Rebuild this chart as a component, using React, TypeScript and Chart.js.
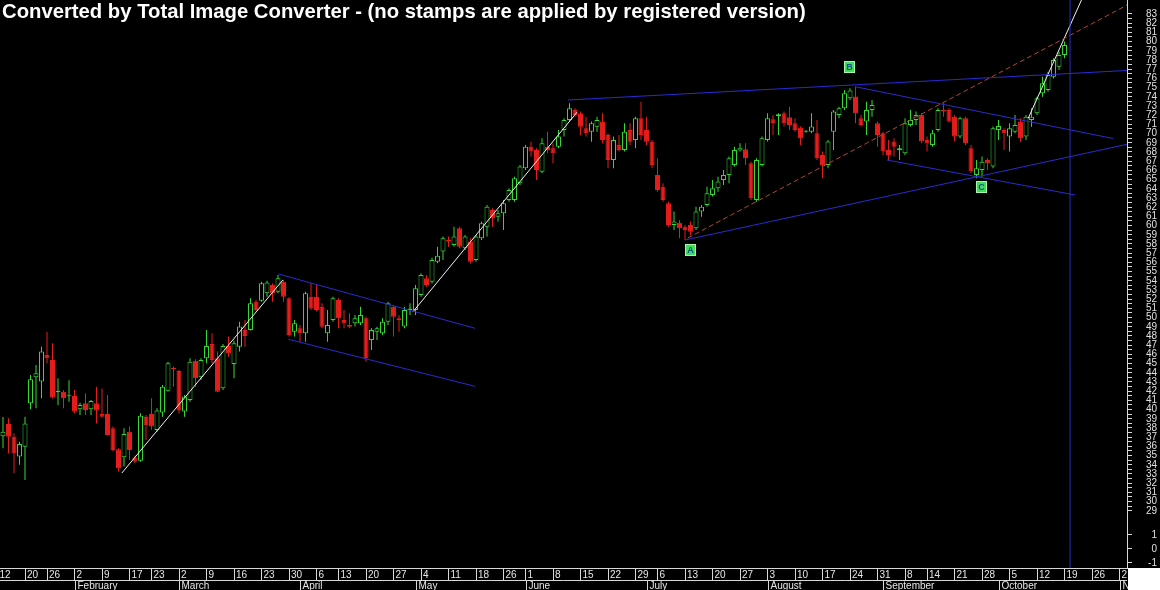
import React, { useEffect, useRef } from "react";
import { Chart, registerables } from "chart.js";

Chart.register(...registerables);

// ---- data -------------------------------------------------------------
// trading-day index: 0 = Mon 12 Jan 2009 (holidays skipped)
const FIRST_DAY = 1;

const opens = [
  37.1, 38.44, 37.06, 34.9, 35.97, 40.68, 43.51, 43.04, 45.93, 45.39,
  41.9, 41.95, 41.45, 41.48, 40.03, 40.68, 40.03, 40.68, 39.52, 39.52,
  37.96, 35.68, 34.81, 37.6, 34.78, 34.45, 39.2, 39.52, 37.78, 39.67,
  42.06, 44.56, 44.2, 39.78, 41.05, 45.32, 43.51, 45.57, 47.13, 45.57,
  42.31, 46.92, 44.96, 46.84, 48.65, 48.65, 51.73, 51.84, 52.64, 53.54,
  52.82, 53.9, 52.09, 48.47, 48.83, 48.29, 52.27, 52.27, 51.19, 48.29,
  49.74, 51.91, 49.74, 49.2, 49.38, 49.38, 49.92, 47.56, 48.47, 48.29,
  49.56, 51.19, 49.92, 49.02, 50.83, 50.83, 52.45, 54.27, 53.9, 56.08,
  57.17, 58.44, 57.89, 59.7, 57.53, 58.26, 56.26, 58.62, 59.88, 61.7,
  60.97, 61.33, 62.78, 62.78, 64.6, 66.23, 68.58, 68.22, 65.86, 68.58,
  68.4, 68.58, 70.39, 71.48, 72.57, 72.2, 70.57, 70.21, 70.75, 71.3,
  69.85, 67.13, 68.76, 68.22, 70.39, 69.3, 71.66, 70.39, 69.12, 65.5,
  64.23, 62.42, 60.07, 60.32, 59.88, 60.07, 59.7, 61.52, 62.24, 63.33,
  64.05, 64.96, 65.5, 66.59, 68.15, 68.29, 66.77, 62.79, 66.59, 69.31,
  71.55, 71.92, 72.2, 71.77, 71.12, 70.65, 70.2, 70.21, 70.03, 67.68,
  66.59, 70.21, 72.03, 72.75, 73.84, 74.02, 71.66, 71.3, 72.57, 71.12,
  70.03, 68.22, 69.13, 68.22, 67.86, 70.94, 71.48, 72.03, 69.31, 68.77,
  70.4, 72.57, 72.57, 71.84, 69.67, 71.66, 68.4, 65.5, 66.05, 67.13,
  66.41, 70.39, 70.39, 69.67, 70.21, 71.3, 69.67, 71.48, 72.2, 74.38,
  74.74, 76.19, 77.27, 78.54,
];

const highs = [
  39.2, 39.05, 37.42, 36.5, 39.23, 43.76, 44.85, 46.84, 48.47, 47.2,
  43.4, 42.13, 43.2, 42.13, 40.75, 41.77, 41.05, 42.49, 42.3, 41.59,
  38.15, 35.8, 37.96, 38.15, 35.0, 39.6, 39.4, 41.23, 40.14, 42.67,
  45.21, 44.67, 44.31, 41.59, 45.57, 45.46, 45.57, 48.65, 48.29, 46.3,
  47.13, 47.93, 47.5, 49.56, 49.74, 52.09, 51.91, 53.9, 54.0, 53.72,
  54.63, 54.09, 52.2, 49.74, 49.2, 52.82, 53.72, 53.54, 51.55, 50.83,
  52.27, 52.09, 50.83, 50.47, 50.28, 51.19, 50.1, 48.83, 49.0, 49.92,
  51.73, 51.37, 50.28, 51.19, 51.55, 53.54, 54.81, 54.63, 56.5, 57.7,
  58.8, 58.8, 59.88, 59.88, 58.98, 58.62, 58.98, 60.43, 62.24, 61.88,
  61.7, 62.78, 64.05, 65.32, 66.59, 68.76, 69.12, 68.4, 69.49, 70.21,
  68.94, 70.39, 71.66, 73.29, 72.75, 72.39, 71.84, 71.3, 71.84, 72.2,
  70.03, 69.67, 69.85, 71.12, 71.12, 71.84, 73.47, 71.84, 69.3, 67.31,
  64.6, 62.6, 61.52, 60.61, 60.07, 60.43, 62.06, 62.24, 64.23, 64.96,
  65.32, 66.05, 67.5, 68.58, 68.95, 68.95, 66.95, 67.31, 69.67, 72.2,
  72.03, 72.2, 72.39, 72.93, 71.66, 70.76, 70.4, 72.2, 71.48, 68.04,
  69.31, 72.57, 72.93, 74.74, 74.92, 75.1, 72.03, 73.47, 73.66, 71.3,
  70.21, 69.31, 69.49, 68.76, 71.66, 72.57, 72.39, 72.2, 69.67, 70.4,
  72.75, 73.29, 72.75, 72.03, 71.84, 71.84, 68.77, 67.13, 67.5, 67.31,
  70.76, 71.48, 70.57, 71.12, 72.02, 71.66, 72.02, 72.75, 74.01, 76.19,
  76.73, 78.18, 78.9, 80.0,
];

const lows = [
  35.8, 35.25, 33.07, 34.0, 32.35, 40.03, 40.14, 41.23, 45.03, 41.2,
  40.5, 40.14, 40.86, 39.6, 39.41, 39.41, 39.41, 38.5, 39.2, 37.2,
  35.43, 33.26, 33.8, 34.52, 34.2, 34.34, 36.7, 37.8, 37.6, 39.23,
  41.95, 42.49, 39.6, 39.23, 40.86, 42.49, 43.22, 45.03, 45.03, 41.9,
  42.13, 45.75, 43.4, 46.3, 46.84, 48.6, 50.64, 51.73, 52.27, 51.73,
  52.64, 51.73, 47.93, 47.93, 47.38, 47.38, 50.83, 50.7, 48.83, 47.38,
  49.56, 48.83, 48.83, 48.83, 49.02, 49.2, 45.21, 46.48, 47.56, 48.11,
  49.2, 47.93, 48.47, 48.83, 50.28, 50.28, 52.27, 53.36, 53.7, 55.9,
  56.26, 57.71, 57.71, 57.53, 57.35, 55.9, 56.08, 58.44, 58.8, 59.88,
  60.43, 59.52, 62.6, 62.6, 64.41, 66.04, 67.5, 64.96, 65.68, 67.86,
  66.77, 68.4, 69.67, 71.3, 71.84, 69.85, 69.67, 69.12, 70.21, 68.94,
  66.23, 66.23, 68.04, 68.04, 68.76, 68.4, 69.3, 68.76, 66.23, 63.69,
  62.6, 59.88, 59.52, 58.62, 58.44, 58.98, 59.52, 60.97, 62.06, 63.15,
  63.69, 64.42, 64.6, 66.41, 68.04, 66.59, 62.79, 62.6, 66.41, 69.13,
  69.85, 69.85, 70.76, 70.4, 70.21, 68.76, 70.1, 70.03, 67.13, 65.14,
  66.23, 68.22, 71.66, 72.57, 73.66, 71.12, 70.76, 69.85, 71.84, 68.58,
  67.68, 67.13, 67.5, 67.13, 67.68, 70.76, 70.94, 68.95, 68.04, 68.58,
  70.21, 71.84, 71.2, 69.13, 69.49, 68.77, 65.69, 65.14, 65.32, 66.05,
  66.23, 69.31, 68.22, 68.04, 70.03, 69.12, 69.3, 70.75, 72.02, 74.01,
  74.56, 76.0, 76.91, 78.18,
];

const closes = [
  37.6, 37.06, 35.25, 36.26, 38.5, 43.29, 43.94, 46.3, 45.57, 41.33,
  42.0, 41.23, 41.55, 39.78, 40.5, 39.96, 40.94, 39.89, 39.23, 37.24,
  35.61, 33.62, 37.35, 35.61, 34.34, 39.34, 38.3, 38.15, 39.89, 42.49,
  45.03, 44.38, 39.89, 41.41, 45.21, 43.4, 45.39, 46.92, 45.39, 41.95,
  46.92, 46.12, 47.2, 49.02, 48.0, 51.55, 50.83, 53.72, 53.8, 52.64,
  54.27, 52.27, 48.11, 49.38, 48.29, 52.64, 51.0, 50.83, 49.0, 49.2,
  52.09, 49.92, 49.38, 49.0, 49.92, 50.28, 45.57, 48.65, 48.83, 49.56,
  51.55, 50.1, 49.74, 50.83, 51.0, 53.18, 54.63, 53.54, 56.26, 56.73,
  58.62, 58.26, 58.8, 57.71, 58.8, 56.08, 58.8, 60.25, 62.06, 60.79,
  61.33, 62.42, 63.87, 65.14, 66.41, 68.58, 68.04, 66.04, 68.94, 68.22,
  67.86, 69.67, 71.48, 72.75, 72.03, 70.75, 70.03, 71.12, 71.48, 69.3,
  67.13, 69.3, 68.22, 70.21, 69.12, 71.66, 69.85, 69.12, 66.59, 63.87,
  62.78, 60.07, 60.43, 59.7, 59.52, 59.34, 61.52, 62.06, 63.51, 64.05,
  64.78, 65.5, 67.31, 68.22, 68.47, 67.31, 62.97, 67.13, 69.49, 71.66,
  71.12, 72.1, 71.12, 70.94, 70.4, 69.49, 70.3, 70.76, 67.31, 66.59,
  69.13, 72.39, 72.75, 74.38, 74.67, 72.2, 70.94, 72.57, 73.11, 69.85,
  68.04, 67.68, 68.58, 68.4, 71.12, 71.48, 72.03, 69.13, 68.95, 70.03,
  72.57, 72.39, 71.3, 69.67, 71.66, 68.95, 65.87, 66.23, 66.95, 66.77,
  70.58, 70.82, 70.03, 70.57, 70.93, 69.49, 71.84, 71.84, 73.83, 75.46,
  76.37, 78.0, 78.54, 79.63,
];

// x-axis: weekly day ticks (trading-day index) and their labels
const dayTickIndex = [
  0, 5, 9, 14, 19, 24, 28, 33, 38, 43, 48, 53, 58, 62, 67, 72, 77, 82, 87, 92, 96,
  101, 106, 111, 116, 120, 125, 130, 135, 140, 145, 150, 155, 160, 165, 169, 174,
  179, 184, 189, 194, 199, 204,
];
const dayTickLabels = [
  "12", "20", "26", "2", "9", "17", "23", "2", "9", "16", "23", "30", "6", "13", "20",
  "27", "4", "11", "18", "26", "1", "8", "15", "22", "29", "6", "13", "20", "27", "3",
  "10", "17", "24", "31", "8", "14", "21", "28", "5", "12", "19", "26", "2",
];
const monthStartIndex = [14, 33, 55, 76, 96, 118, 140, 161, 182, 204];
const monthNames = [
  "February", "March", "April", "May", "June", "July", "August", "September", "October", "November",
];

// y-axis price ticks and the small indicator-pane ticks at the bottom
const priceTickMin = 29;
const priceTickMax = 83;
const indicatorLabels = [-1, 0, 1];
const INDICATOR_ZERO = 24.85;
const INDICATOR_STEP = 1.52;

// drawn studies: [day1, price1, day2, price2]
const whiteLines = [
  [22.6, 33.1, 51.9, 54.1],
  [75.5, 50.6, 105.4, 72.35],
  [187.4, 71.66, 198.2, 86.0],
];
const blueLines = [
  [51.05, 54.74, 86.8, 48.84],
  [52.9, 47.64, 86.8, 42.53],
  [103.7, 73.65, 206, 76.88],
  [125.0, 58.43, 206, 68.92],
  [155.9, 75.1, 202.8, 69.47],
  [161.7, 67.13, 195.9, 63.33],
];
const dashedLines = [[125.5, 58.65, 206, 84.17]];
const markerDay = 195.0;

const pivotNames = ["A", "B", "C"];
const pivotDay = [125.9, 154.8, 178.8];
const pivotPrice = [57.35, 77.24, 64.2];

const TITLE = "Converted by Total Image Converter - (no stamps are applied by registered version)";

// ---- styling -----------------------------------------------------------
const UP = "#36d836";
const DOWN = "#e41c1c";
const BLUE = "#2b2bcf";
const WHITE_LINE = "#f2f2f2";
const DASH = "#b4472e";
const AXIS = "#d8d8d8";
const FONT = "Liberation Sans, Arial, sans-serif";

const X_MIN = 0.4545;
const X_MAX = 205.36;
const Y_MIN = 22.78;
const Y_MAX = 84.52;

function segment(seg: number[], color: string, dash: number[] = []) {
  return {
    type: "line" as const,
    data: [
      { x: seg[0], y: seg[1] },
      { x: seg[2], y: seg[3] },
    ],
    borderColor: color,
    borderWidth: 1,
    borderDash: dash,
    pointRadius: 0,
    pointHoverRadius: 0,
    tension: 0,
    fill: false,
    order: -1,
  };
}

const overlayPlugin = {
  id: "overlay",
  beforeDraw(chart: any) {
    const { ctx, width, height } = chart;
    ctx.save();
    ctx.fillStyle = "#000";
    ctx.fillRect(0, 0, width, height);
    ctx.restore();
  },
  afterDraw(chart: any) {
    const { ctx, chartArea, width, height } = chart;
    const xs = chart.scales.x;
    const ys = chart.scales.y;
    const rowTop = chartArea.bottom + 12;
    ctx.save();
    // month row
    ctx.strokeStyle = AXIS;
    ctx.lineWidth = 1;
    ctx.beginPath();
    ctx.moveTo(0, rowTop + 0.5);
    ctx.lineTo(chartArea.right, rowTop + 0.5);
    ctx.stroke();
    ctx.font = `10px ${FONT}`;
    ctx.textBaseline = "middle";
    ctx.textAlign = "left";
    monthStartIndex.forEach((d, k) => {
      const px = Math.round(xs.getPixelForValue(d)) + 0.5;
      ctx.beginPath();
      ctx.moveTo(px, rowTop);
      ctx.lineTo(px, height);
      ctx.stroke();
      ctx.fillStyle = "#e6e6e6";
      ctx.fillText(monthNames[k], px + 2, rowTop + 6);
    });
    // pivot labels A, B, C
    ctx.font = `bold 9px ${FONT}`;
    ctx.textAlign = "center";
    pivotNames.forEach((n, k) => {
      const px = Math.round(xs.getPixelForValue(pivotDay[k]));
      const py = Math.round(ys.getPixelForValue(pivotPrice[k]));
      ctx.fillStyle = "#3fdc5c";
      ctx.fillRect(px - 5, py - 6, 11, 12);
      ctx.strokeStyle = "#a8f7a8";
      ctx.strokeRect(px - 5 + 0.5, py - 6 + 0.5, 10, 11);
      ctx.fillStyle = "#14508c";
      ctx.fillText(n, px + 0.5, py + 0.5);
    });
    // white corner below the price axis
    ctx.fillStyle = "#ffffff";
    ctx.fillRect(chartArea.right + 1, chartArea.bottom, width - chartArea.right, height - chartArea.bottom);
    // title watermark
    ctx.textAlign = "left";
    ctx.textBaseline = "alphabetic";
    ctx.font = `bold 17px ${FONT}`;
    const w = ctx.measureText(TITLE).width;
    const size = (17 * 804) / w;
    ctx.font = `bold ${size.toFixed(2)}px ${FONT}`;
    ctx.fillStyle = "#ffffff";
    ctx.fillText(TITLE, 2, 18);
    ctx.restore();
  },
};

export default function App() {
  const ref = useRef<HTMLCanvasElement>(null);

  useEffect(() => {
    const days = opens.map((_, k) => FIRST_DAY + k);
    const up = opens.map((o, k) => closes[k] >= o);

    const yTicks: number[] = [];
    indicatorLabels.forEach((l) => yTicks.push(INDICATOR_ZERO + l * INDICATOR_STEP));
    for (let v = priceTickMin; v <= priceTickMax; v += 0.5) yTicks.push(v);

    const datasets: any[] = [
      {
        type: "bar",
        label: "wick",
        data: days.map((d, k) => ({ x: d, y: [lows[k], highs[k]] })),
        backgroundColor: up.map((u) => (u ? UP : DOWN)),
        borderWidth: 0,
        barThickness: 1,
        grouped: false,
        inflateAmount: 0,
        order: 1,
      },
      {
        type: "bar",
        label: "body",
        data: days.map((d, k) => ({ x: d, y: [opens[k], closes[k]] })),
        backgroundColor: up.map((u) => (u ? "#000000" : DOWN)),
        borderColor: up.map((u) => (u ? UP : DOWN)),
        borderWidth: 1,
        borderSkipped: false,
        barThickness: 5,
        minBarLength: 1,
        grouped: false,
        inflateAmount: 0,
        order: 0,
      },
      ...blueLines.map((s) => segment(s, BLUE)),
      segment([markerDay, Y_MIN - 1, markerDay, Y_MAX + 1], BLUE),
      ...dashedLines.map((s) => segment(s, DASH, [5, 3])),
      ...whiteLines.map((s) => segment(s, WHITE_LINE)),
    ];

    const chart = new Chart(ref.current as HTMLCanvasElement, {
      type: "bar",
      data: { datasets },
      options: {
        responsive: false,
        animation: false,
        devicePixelRatio: 1,
        layout: { padding: { left: 0, top: 0, right: 3, bottom: 0 }, autoPadding: false },
        plugins: { legend: { display: false }, tooltip: { enabled: false }, title: { display: false } },
        events: [],
        scales: {
          x: {
            type: "linear",
            min: X_MIN,
            max: X_MAX,
            offset: false,
            afterFit: (s: any) => {
              s.height = 22;
              s.paddingLeft = 0;
              s.paddingRight = 0;
            },
            afterBuildTicks: (s: any) => {
              s.ticks = dayTickIndex.map((v) => ({ value: v }));
            },
            border: { display: true, color: AXIS, width: 1 },
            grid: {
              display: true,
              offset: false,
              drawOnChartArea: false,
              drawTicks: true,
              tickLength: 12,
              color: AXIS,
            },
            ticks: {
              autoSkip: false,
              maxRotation: 0,
              minRotation: 0,
              align: "start",
              labelOffset: 2,
              padding: -11,
              color: "#e6e6e6",
              font: { family: FONT, size: 10 },
              callback: (_v: any, idx: number) => dayTickLabels[idx],
            },
          },
          y: {
            type: "linear",
            position: "right",
            min: Y_MIN,
            max: Y_MAX,
            afterFit: (s: any) => {
              s.width = 30;
              s.paddingTop = 0;
              s.paddingBottom = 0;
            },
            afterBuildTicks: (s: any) => {
              s.ticks = yTicks.map((v) => ({ value: v }));
            },
            border: { display: true, color: AXIS, width: 1 },
            grid: { drawOnChartArea: false, drawTicks: true, tickLength: 5, color: AXIS },
            ticks: {
              autoSkip: false,
              crossAlign: "far",
              padding: 0,
              color: "#e0e0e0",
              font: { family: FONT, size: 10 },
              callback: (v: any) => {
                const val = Number(v);
                if (val >= priceTickMin - 0.01) {
                  return Math.abs(val - Math.round(val)) < 0.01 ? String(Math.round(val)) : "";
                }
                return String(Math.round((val - INDICATOR_ZERO) / INDICATOR_STEP));
              },
            },
          },
        },
      } as any,
      plugins: [overlayPlugin as any],
    });
    return () => chart.destroy();
  }, []);

  return (
    <div style={{ position: "fixed", left: 0, top: 0, width: 1160, height: 590, background: "#000" }}>
      <canvas ref={ref} width={1160} height={590} style={{ display: "block", width: 1160, height: 590 }} />
    </div>
  );
}
